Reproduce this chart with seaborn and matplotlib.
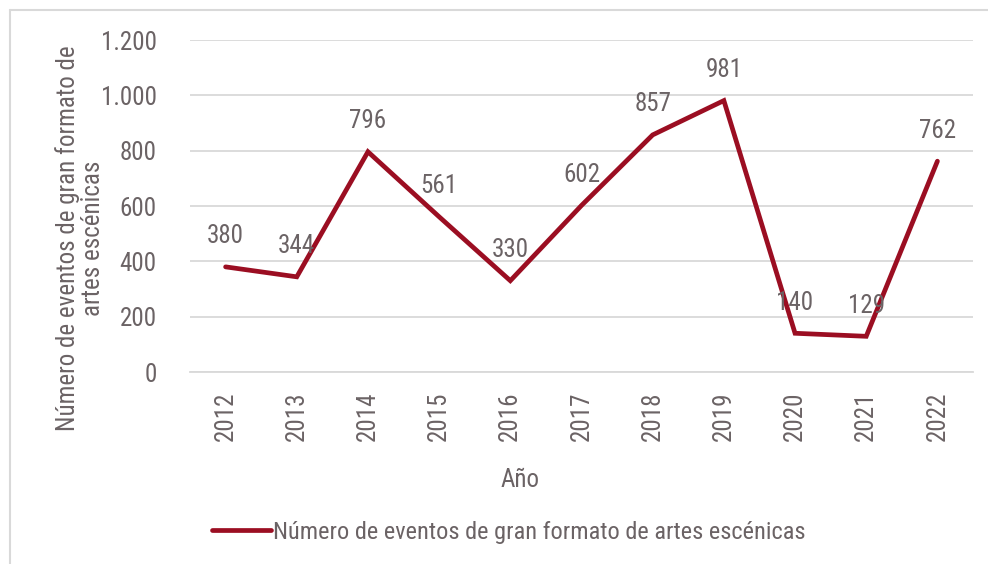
import matplotlib
matplotlib.use("Agg")
import matplotlib.pyplot as plt
import seaborn as sns
import pandas as pd
from matplotlib.lines import Line2D
from matplotlib.ticker import FuncFormatter

years = ["2012", "2013", "2014", "2015", "2016", "2017", "2018", "2019", "2020", "2021", "2022"]
eventos = [380, 344, 796, 561, 330, 602, 857, 981, 140, 129, 762]
y_ticks = [0, 200, 400, 600, 800, 1000, 1200]
series_name = "Número de eventos de gran formato de artes escénicas"
y_label = "Número de eventos de gran formato de\nartes escénicas"
x_label = "Año"

sns.set_style("white")
plt.rcParams['font.family'] = ['Roboto Condensed', 'Liberation Sans', 'DejaVu Sans']

TXT = "#6b6365"
LINE = "#9b0e22"
GRID = "#d9d9d9"
FS = 18

df = pd.DataFrame({"year": years, "value": eventos})

fig = plt.figure(figsize=(9.88, 5.64), dpi=100)
ax = fig.add_axes([190/988, 1-372/564, (973-190)/988, (372-40)/564])
sns.lineplot(data=df, x="year", y="value", ax=ax, color=LINE, linewidth=3.4,
             sort=False, solid_capstyle="round", solid_joinstyle="miter", label=series_name, legend=False)
ax.set_xlim(-0.5, len(years)-0.5)
ax.set_ylim(0, 1200)
ax.set_yticks(y_ticks)
ax.yaxis.set_major_formatter(FuncFormatter(lambda v, p: f"{int(v):,}".replace(",", ".")))
ax.grid(axis="y", color=GRID, linewidth=1.3)
ax.grid(axis="x", visible=False)
for s in ["top", "right", "left"]:
    ax.spines[s].set_visible(False)
ax.spines["bottom"].set_color(GRID)
ax.spines["bottom"].set_linewidth(1.3)
ax.tick_params(axis="both", length=0, labelsize=FS, labelcolor=TXT)
ax.tick_params(axis="y", pad=24)
ax.tick_params(axis="x", pad=14)
plt.setp(ax.get_xticklabels(), rotation=90)
ax.set_xlabel("")
ax.set_ylabel("")

for i, v in enumerate(eventos):
    ax.annotate(f"{v}", (i, v), xytext=(0, 22), textcoords="offset points",
                ha="center", va="center", fontsize=FS, color=TXT)

fig.text(80/988, 1-238/564, y_label, rotation=90, ha="center", va="center",
         fontsize=FS, color=TXT, linespacing=1.05)
fig.text(520/988, 1-480/564, x_label, ha="center", va="center", fontsize=FS, color=TXT)

handle = Line2D([], [], color=LINE, linewidth=3.4, solid_capstyle="round")
fig.legend([handle], [series_name], loc="center", bbox_to_anchor=(509/988, 1-532/564),
           frameon=False, fontsize=17.6, labelcolor=TXT, handlelength=2.4, handletextpad=0.1)

fig.add_artist(Line2D([9.5/988, 1], [1-10/564, 1-10/564], color="#d9d9d9", linewidth=1.5, transform=fig.transFigure))
fig.add_artist(Line2D([9.5/988, 9.5/988], [0, 1-10/564], color="#d9d9d9", linewidth=1.5, transform=fig.transFigure))

fig.savefig("out.png", dpi=100)
